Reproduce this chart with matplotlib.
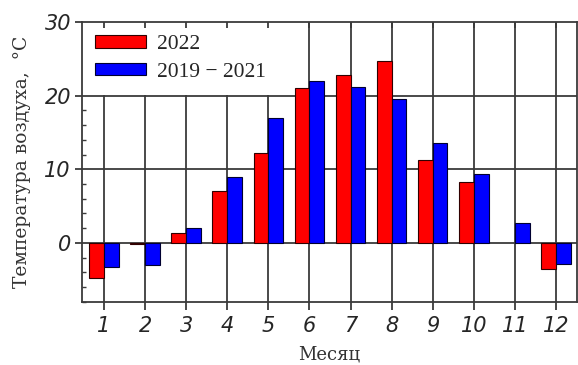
import numpy as np
import matplotlib
matplotlib.use("Agg")
import matplotlib.pyplot as plt
from matplotlib.patches import FancyBboxPatch, Rectangle
from matplotlib.legend_handler import HandlerPatch
from matplotlib.ticker import MultipleLocator

# Monthly mean air temperature, °C (no 2022 value for November)
months = list(range(1, 13))
temp_2022 = [-4.8, -0.15, 1.4, 7.0, 12.2, 21.0, 22.8, 24.7, 11.2, 8.3, np.nan, -3.5]
temp_2019_2021 = [-3.3, -3.0, 2.0, 8.9, 17.0, 22.0, 21.1, 19.6, 13.6, 9.4, 2.7, -2.8]
series_labels = ["2022", "2019 − 2021"]
x_label = "Месяц"
y_label = "Температура воздуха,  °C"

LEGEND_FONT = ["Liberation Serif", "DejaVu Serif"]
LABEL_FONT = ["DejaVu Serif"]
GRID = "#3a3a3a"
TEXT = "#262626"


class RoundedHandler(HandlerPatch):
    def create_artists(self, legend, orig_handle, xdescent, ydescent,
                       width, height, fontsize, trans):
        p = FancyBboxPatch((-xdescent, -ydescent), width, height,
                           boxstyle="round,pad=0,rounding_size=2",
                           facecolor=orig_handle.get_facecolor(),
                           edgecolor="#222222", linewidth=0.8,
                           transform=trans)
        return [p]


fig = plt.figure(figsize=(5.78, 3.65), dpi=100)
ax = fig.add_axes([0.142, 0.173, 0.856, 0.767])

x = np.array(months, dtype=float)
w = 0.36
b1 = ax.bar(x - w, temp_2022, width=w, align="edge", color="#ff0000",
            edgecolor="#300000", linewidth=0.8, zorder=3, label=series_labels[0])
b2 = ax.bar(x, temp_2019_2021, width=w, align="edge", color="#0000ff",
            edgecolor="#000030", linewidth=0.8, zorder=3, label=series_labels[1])

ax.set_xlim(0.465, 12.51)
ax.set_ylim(-8, 30)

# grid: every month vertically, 0/10/20 horizontally
for m in months:
    ax.axvline(m, color=GRID, linewidth=1.3, zorder=1)
for yv in (0, 10, 20):
    ax.axhline(yv, color=GRID, linewidth=1.3, zorder=1)

for s in ax.spines.values():
    s.set_color(GRID)
    s.set_linewidth(1.3)
    s.set_zorder(6)

ax.set_xticks(months)
ax.set_xticklabels([str(m) for m in months])
ax.set_yticks([0, 10, 20, 30])
ax.yaxis.set_minor_locator(MultipleLocator(2))
ax.tick_params(axis="x", which="major", direction="out", length=6, width=1.3,
               color=GRID, pad=4, labelsize=15)
ax.tick_params(axis="y", which="major", direction="out", length=5, width=1.3,
               color=GRID, pad=3, labelsize=15)
ax.tick_params(axis="y", which="minor", direction="in", length=3, width=1.0,
               color=GRID)
for lab in ax.get_xticklabels() + ax.get_yticklabels():
    lab.set_fontstyle("oblique")
    lab.set_family("DejaVu Sans")
    lab.set_color(TEXT)

# short inward ticks along the top edge
top = ax.secondary_xaxis("top")
top.set_xticks(months)
top.tick_params(direction="in", length=4, width=1.3, color=GRID,
                labeltop=False)
top.spines["top"].set_visible(False)
top.set_zorder(4)

ax.set_xlabel(x_label, family=LABEL_FONT, fontsize=13, color="#333333",
              labelpad=7)
ax.set_ylabel(y_label, family=LABEL_FONT, fontsize=13.5, color="#333333",
              labelpad=10)

leg = ax.legend(handles=[b1, b2], loc="upper left", bbox_to_anchor=(0.0, 1.0),
                prop={"family": LEGEND_FONT, "size": 15.5}, frameon=True,
                facecolor="white", edgecolor="none", framealpha=1.0,
                fancybox=False, borderaxespad=0.0, borderpad=0.6,
                handlelength=2.35, handleheight=0.55, handletextpad=0.55,
                labelspacing=0.4,
                handler_map={Rectangle: RoundedHandler()})
leg.set_zorder(2)
for t in leg.get_texts():
    t.set_color(TEXT)

fig.savefig("out.png", dpi=100)
